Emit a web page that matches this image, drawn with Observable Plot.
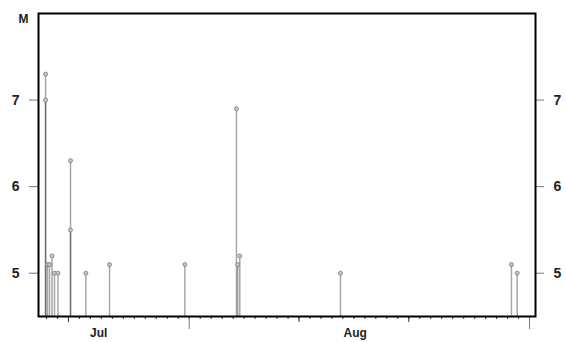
<!DOCTYPE html>
<html>
<head>
<meta charset="utf-8">
<script src="https://cdn.jsdelivr.net/npm/d3@7"></script>
<script src="https://cdn.jsdelivr.net/npm/@observablehq/plot@0.6"></script>
<style>
  body { margin: 0; background: #fff; }
  #chart svg { display: block; }
</style>
</head>
<body>
<div id="chart"></div>
<script>
// Event times (UTC) and magnitudes
const eventTimes = [
  "2000-06-17T22:00Z", "2000-06-17T22:00Z", "2000-06-18T02:00Z", "2000-06-18T06:30Z",
  "2000-06-18T12:00Z", "2000-06-18T17:30Z", "2000-06-19T01:00Z", "2000-06-20T04:30Z",
  "2000-06-20T04:30Z", "2000-06-21T14:00Z", "2000-06-23T17:45Z", "2000-06-30T14:30Z",
  "2000-07-05T07:15Z", "2000-07-05T10:00Z", "2000-07-05T14:30Z", "2000-07-14T18:40Z",
  "2000-07-30T08:25Z", "2000-07-30T21:00Z"
];
const magnitudes = [
  7.3, 7.0, 5.1, 5.1,
  5.2, 5.0, 5.0, 6.3,
  5.5, 5.0, 5.1, 5.1,
  6.9, 5.1, 5.2, 5.0,
  5.1, 5.0
];

// Axes
const yTicks = [5, 6, 7];
const yLabel = "M";
const yDomain = [4.5, 8];
const xDomain = ["2000-06-17T06:30Z", "2000-08-01T13:00Z"];
const monthLabels = ["Jul", "Aug"];
const monthLabelTimes = ["2000-06-22T18:00Z", "2000-07-16T03:00Z"];
const monthStartTicks = ["2000-07-01T00:00Z", "2000-08-01T00:00Z"];
const midTicks = ["2000-06-20T00:00Z", "2000-07-11T00:00Z", "2000-07-21T00:00Z"];

const events = eventTimes.map((t, i) => ({ time: new Date(t), mag: magnitudes[i] }));
const monthText = monthLabels.map((label, i) => ({ label, time: new Date(monthLabelTimes[i]) }));
const xDom = xDomain.map(d => new Date(d));
const dayTicks = d3.utcDay.range(xDom[0], xDom[1]);

const chart = Plot.plot({
  width: 566,
  height: 342,
  marginLeft: 38,
  marginRight: 31,
  marginTop: 13,
  marginBottom: 26,
  x: { type: "utc", domain: xDom },
  y: { domain: yDomain },
  style: { fontFamily: "'Liberation Sans', Arial, sans-serif", fontSize: "12px", color: "#222", background: "#fff" },
  marks: [
    Plot.axisX(dayTicks, { tickSize: 3, tickFormat: () => "", stroke: "#333", label: null }),
    Plot.axisX(midTicks.map(d => new Date(d)), { tickSize: 6, tickFormat: () => "", stroke: "#333", label: null }),
    Plot.axisX(monthStartTicks.map(d => new Date(d)), { tickSize: 13, tickFormat: () => "", stroke: "#777", label: null }),
    Plot.text(monthText, { x: "time", text: "label", frameAnchor: "bottom", dy: 20, fontWeight: "bold", fontSize: 12, fill: "#222" }),
    Plot.axisY(yTicks, { anchor: "left", tickSize: 9, tickPadding: 10, tickFormat: d => String(d), stroke: "#777", fontWeight: "bold", fontSize: 14, label: null }),
    Plot.axisY(yTicks, { anchor: "right", tickSize: 8, tickPadding: 10, tickFormat: d => String(d), stroke: "#777", fontWeight: "bold", fontSize: 14, label: null }),
    Plot.text([yLabel], { frameAnchor: "top-left", dx: -20, dy: 1, fontWeight: "bold", fontSize: 12, fill: "#222" }),
    Plot.ruleX(events, { x: "time", y1: yDomain[0], y2: "mag", stroke: "black", strokeOpacity: 0.35, strokeWidth: 1.5 }),
    Plot.dot(events, { x: "time", y: "mag", r: 2, fill: "#c8c8c8", stroke: "#777", strokeWidth: 0.8 }),
    Plot.frame({ stroke: "black", strokeWidth: 2 })
  ]
});
document.getElementById("chart").append(chart);
</script>
</body>
</html>
